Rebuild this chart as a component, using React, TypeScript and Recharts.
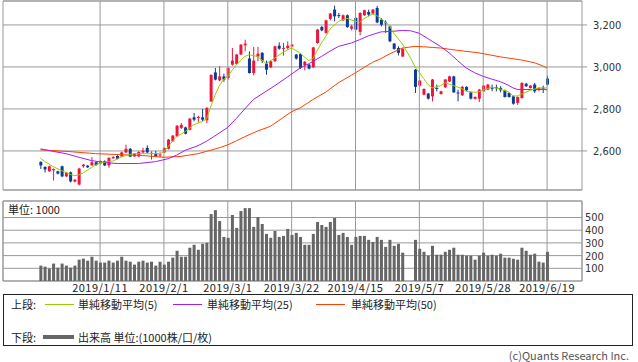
import React from "react";
import { Bar, CartesianGrid, ComposedChart, Line, ReferenceArea, ReferenceLine, XAxis, YAxis } from "recharts";

// candle values per trading slot (null = no trading)
const opens = [
  2548, 2524, 2503, 2508, 2503, 2527, 2479, 2498, 2454, 2440, 2527, 2530, 2531, 2546, 2540, 2552, 2531, 2565, 2576, 2574,
  2593, 2610, 2574, 2574, 2593, 2614, 2586, 2587, 2580, 2593, 2610, 2646, 2670, 2710, 2712, 2701, 2760, 2757, 2760, 2746,
  2836, 2974, 2936, 2955, 2948, 3011, 3014, 3059, 3103, 3040, 2971, 3050, 3067, 3016, 2998, 3027, 3101, 3086, 3090, 3098,
  3059, 3062, 3008, 3011, 2998, 3114, 3190, 3162, 3229, 3273, 3247, 3222, 3246, 3182, 3233, 3167, 3246, 3262, 3254, 3281,
  3225, 3212, 3193, 3111, 3090, 3050, null, null, 2987, 2911, 2868, 2873, 2860, 2900, 2871, 2903, 2931, 2955, 2878, 2865,
  2905, 2879, 2848, 2849, 2884, 2892, 2901, 2903, 2900, 2889, 2876, 2860, 2829, 2852, 2920, 2900, 2916, 2892, 2901, 2945,
];
const highs = [
  2550, 2526, 2530, 2517, 2506, 2530, 2500, 2502, 2466, 2520, 2538, 2533, 2571, 2549, 2556, 2555, 2570, 2575, 2579, 2596,
  2630, 2614, 2590, 2598, 2615, 2627, 2598, 2600, 2593, 2617, 2657, 2676, 2723, 2733, 2716, 2757, 2781, 2768, 2800, 2808,
  2965, 2995, 3003, 2968, 2998, 3090, 3062, 3109, 3130, 3074, 3095, 3095, 3071, 3030, 3030, 3101, 3117, 3114, 3122, 3109,
  3062, 3066, 3028, 3014, 3096, 3181, 3195, 3225, 3257, 3292, 3257, 3250, 3250, 3201, 3237, 3260, 3273, 3273, 3276, 3290,
  3233, 3222, 3197, 3114, 3098, 3089, null, null, 2990, 2938, 2898, 2876, 2943, 2916, 2887, 2943, 2958, 2958, 2892, 2910,
  2908, 2882, 2860, 2895, 2914, 2919, 2916, 2916, 2908, 2892, 2879, 2863, 2860, 2927, 2924, 2914, 2924, 2903, 2911, 2958,
];
const lows = [
  2514, 2497, 2500, 2459, 2488, 2475, 2476, 2450, 2450, 2436, 2520, 2519, 2530, 2530, 2536, 2528, 2520, 2562, 2560, 2571,
  2590, 2570, 2572, 2570, 2590, 2590, 2559, 2572, 2570, 2590, 2607, 2643, 2667, 2705, 2679, 2698, 2741, 2736, 2741, 2733,
  2833, 2936, 2931, 2929, 2940, 3006, 3010, 3056, 3074, 2968, 2960, 3027, 3019, 2963, 2995, 3024, 3082, 3054, 3082, 3095,
  3035, 2991, 2984, 2988, 2995, 3111, 3170, 3159, 3222, 3217, 3233, 3218, 3186, 3174, 3174, 3150, 3243, 3241, 3250, 3208,
  3193, 3162, 3118, 3082, 3055, 3047, null, null, 2876, 2907, 2865, 2845, 2836, 2884, 2868, 2900, 2928, 2876, 2836, 2862,
  2886, 2845, 2845, 2833, 2881, 2889, 2884, 2884, 2879, 2854, 2854, 2820, 2820, 2849, 2905, 2897, 2876, 2884, 2876, 2912,
];
const closes = [
  2531, 2512, 2527, 2514, 2492, 2479, 2497, 2455, 2463, 2516, 2535, 2522, 2546, 2533, 2552, 2531, 2567, 2571, 2562, 2593,
  2610, 2573, 2587, 2595, 2601, 2593, 2591, 2574, 2583, 2614, 2654, 2673, 2720, 2724, 2682, 2754, 2749, 2762, 2749, 2805,
  2962, 2940, 2955, 2940, 2995, 3030, 3059, 3106, 3111, 2971, 3030, 3063, 3030, 2987, 3027, 3098, 3087, 3091, 3101, 3106,
  3040, 2995, 3025, 2992, 3093, 3178, 3174, 3222, 3254, 3241, 3244, 3246, 3190, 3193, 3178, 3257, 3270, 3249, 3273, 3212,
  3201, 3209, 3122, 3086, 3067, 3086, null, null, 2905, 2935, 2895, 2849, 2940, 2897, 2884, 2940, 2955, 2879, 2876, 2905,
  2889, 2849, 2857, 2892, 2911, 2916, 2898, 2900, 2889, 2857, 2857, 2825, 2857, 2924, 2908, 2911, 2884, 2900, 2898, 2916,
];
const volumes = [
  121, 113, 98, 137, 105, 137, 121, 105, 121, 168, 176, 160, 191, 160, 145, 145, 160, 145, 160, 191,
  160, 152, 129, 152, 160, 145, 152, 121, 152, 129, 152, 184, 238, 191, 191, 262, 285, 246, 293, 301,
  527, 558, 472, 347, 340, 520, 418, 551, 574, 574, 426, 504, 449, 371, 340, 394, 347, 355, 410, 363,
  379, 347, 285, 285, 371, 465, 441, 426, 465, 496, 363, 379, 347, 285, 347, 355, 355, 324, 308, 347,
  324, 269, 324, 277, 293, 223, null, null, 324, 254, 230, 199, 277, 207, 207, 230, 246, 262, 207, 207,
  199, 199, 168, 199, 223, 199, 207, 199, 215, 184, 184, 176, 168, 262, 238, 207, 215, 152, 145, 230,
];

// moving averages: [slot, value]
const ma5Pts: [number, number][] = [
  [0, 2565], [1, 2550], [2, 2538], [3, 2525], [5, 2506], [7, 2488], [8, 2482], [9, 2486], [10, 2495], [12, 2522],
  [14, 2543], [16, 2550], [17, 2552], [19, 2571], [21, 2584], [22, 2587], [25, 2587], [28, 2587], [29, 2595], [30, 2620],
  [31, 2646], [32, 2668], [34, 2692], [36, 2725], [38, 2740], [39, 2752], [40, 2810], [41, 2866], [42, 2910], [43, 2940],
  [44, 2957], [46, 3010], [48, 3050], [49, 3058], [51, 3050], [53, 3016], [55, 3042], [57, 3070], [59, 3091], [61, 3065],
  [63, 3030], [64, 3040], [65, 3078], [66, 3115], [67, 3145], [68, 3180], [70, 3217], [72, 3232], [73, 3224], [75, 3212],
  [76, 3230], [78, 3252], [79, 3244], [80, 3230], [82, 3195], [83, 3160], [85, 3110], [87, 3040], [88, 3000], [90, 2945],
  [91, 2916], [92, 2900], [94, 2911], [95, 2925], [97, 2911], [99, 2897], [100, 2884], [102, 2879], [103, 2882], [105, 2897],
  [106, 2905], [108, 2895], [110, 2880], [111, 2862], [112, 2862], [113, 2870], [115, 2889], [117, 2900], [119, 2900],
];
const ma25Pts: [number, number][] = [
  [0, 2610], [3, 2598], [6, 2587], [9, 2570], [12, 2554], [15, 2545], [18, 2540], [23, 2540], [27, 2549], [30, 2563],
  [32, 2580], [34, 2603], [37, 2625], [39, 2646], [41, 2672], [44, 2712], [46, 2755], [48, 2800], [50, 2845], [53, 2884],
  [55, 2910], [58, 2952], [61, 2995], [63, 3015], [66, 3050], [68, 3075], [70, 3098], [73, 3114], [75, 3130], [77, 3148],
  [80, 3167], [83, 3170], [85, 3174], [87, 3172], [89, 3160], [91, 3135], [92, 3122], [94, 3097], [96, 3067], [98, 3030],
  [100, 2995], [102, 2972], [104, 2955], [106, 2942], [108, 2930], [110, 2912], [111, 2900], [112, 2893], [119, 2892],
];
const ma50Pts: [number, number][] = [
  [0, 2605], [6, 2598], [13, 2587], [19, 2582], [24, 2578], [29, 2570], [33, 2574], [37, 2587], [39, 2598], [42, 2615],
  [44, 2629], [46, 2648], [48, 2668], [51, 2695], [54, 2717], [56, 2745], [59, 2787], [61, 2805], [64, 2845], [67, 2880],
  [70, 2925], [73, 2960], [75, 2985], [78, 3022], [80, 3040], [82, 3062], [85, 3090], [88, 3098], [90, 3096], [92, 3093],
  [94, 3090], [98, 3079], [103, 3067], [108, 3048], [113, 3033], [116, 3020], [118, 3005], [119, 2995],
];

const dateIdx = [14, 29, 44, 59, 74, 89, 104, 119];
const dateLabels = ["2019/1/11", "2019/2/1", "2019/3/1", "2019/3/22", "2019/4/15", "2019/5/7", "2019/5/28", "2019/6/19"];
const priceTicks = [2600, 2800, 3000, 3200];
const volTicks = [100, 200, 300, 400, 500];

const X_DOMAIN: [number, number] = [-8.8, 127.2];
const P_DOMAIN: [number, number] = [2414, 3314];
const V_DOMAIN: [number, number] = [0, 630];

const RED = "#f0143c";
const BLUE = "#0c3a96";
const GRID = "#999";
const FONT = '"Noto Sans CJK JP", "DejaVu Sans", sans-serif';
const NUM_FONT = '"DejaVu Sans Condensed", "DejaVu Sans", sans-serif';

const toMap = (pts: [number, number][]) => new Map(pts.map(([i, v]) => [i, v]));
const m5 = toMap(ma5Pts);
const m25 = toMap(ma25Pts);
const m50 = toMap(ma50Pts);

const rows = opens.map((o, i) => ({
  i,
  open: o,
  high: highs[i],
  low: lows[i],
  close: closes[i],
  range: o == null ? null : [lows[i], highs[i]],
  vol: volumes[i],
  ma5: m5.get(i) ?? null,
  ma25: m25.get(i) ?? null,
  ma50: m50.get(i) ?? null,
}));

function Candle(props: any) {
  const { x, y, width, height, payload } = props;
  if (!payload || payload.open == null) return null;
  const { open, close, high, low } = payload;
  const top0 = Math.min(y, y + height);
  const h = Math.abs(height);
  const span = high - low || 1;
  const py = (v: number) => top0 + ((high - v) / span) * h;
  const color = close >= open ? RED : BLUE;
  const cx = x + width / 2;
  const bTop = py(Math.max(open, close));
  const bBot = py(Math.min(open, close));
  return (
    <g>
      <line x1={cx} x2={cx} y1={top0} y2={top0 + h} stroke={color} strokeWidth={1} />
      <rect x={x} y={bTop} width={width} height={Math.max(bBot - bTop, 1)} fill={color} />
    </g>
  );
}

const legendText: React.CSSProperties = { position: "absolute", fontSize: 11, color: "#222", fontFamily: FONT, lineHeight: "12px", whiteSpace: "nowrap" };

export default function App() {
  return (
    <div style={{ position: "absolute", left: 0, top: 0, width: 638, height: 362, background: "#fff", fontFamily: FONT }}>
      <div style={{ position: "absolute", left: 0, top: 0 }}>
        <ComposedChart width={638} height={192} data={rows} margin={{ top: 1, right: 0, bottom: 2, left: 3 }}>
          <XAxis type="number" dataKey="i" domain={X_DOMAIN} hide allowDataOverflow />
          <YAxis
            orientation="right"
            domain={P_DOMAIN}
            ticks={priceTicks}
            interval={0}
            width={56}
            tickSize={5}
            tickMargin={6}
            axisLine={false}
            tickLine={{ stroke: GRID }}
            allowDataOverflow
            tick={{ fontSize: 11, fill: "#333", fontFamily: NUM_FONT }}
            tickFormatter={(v) => Number(v).toLocaleString("en-US")}
          />
          <CartesianGrid vertical={false} stroke={GRID} />
          {dateIdx.map((d) => (
            <ReferenceLine key={d} x={d} stroke={GRID} />
          ))}
          <ReferenceArea x1={X_DOMAIN[0]} x2={X_DOMAIN[1]} y1={P_DOMAIN[0]} y2={P_DOMAIN[1]} fill="none" stroke={GRID} />
          <Bar dataKey="range" barSize={3} shape={<Candle />} isAnimationActive={false} />
          <Line dataKey="ma50" stroke="#ff4000" strokeWidth={1} dot={false} connectNulls isAnimationActive={false} />
          <Line dataKey="ma25" stroke="#a020f0" strokeWidth={1} dot={false} connectNulls isAnimationActive={false} />
          <Line dataKey="ma5" stroke="#99cc00" strokeWidth={1} dot={false} connectNulls isAnimationActive={false} />
        </ComposedChart>
      </div>

      <div style={{ position: "absolute", left: 0, top: 200 }}>
        <ComposedChart width={638} height={100} data={rows} margin={{ top: 1, right: 0, bottom: 0, left: 3 }}>
          <XAxis
            type="number"
            dataKey="i"
            domain={X_DOMAIN}
            ticks={dateIdx}
            interval={0}
            allowDataOverflow
            height={19}
            tickSize={0}
            tickMargin={3}
            axisLine={false}
            tickLine={false}
            tick={{ fontSize: 11, fill: "#222", fontFamily: FONT, letterSpacing: 0.5 }}
            tickFormatter={(v) => dateLabels[dateIdx.indexOf(Number(v))] ?? ""}
          />
          <YAxis
            orientation="right"
            domain={V_DOMAIN}
            ticks={volTicks}
            interval={0}
            width={56}
            tickSize={0}
            tickMargin={3}
            axisLine={false}
            tickLine={false}
            allowDataOverflow
            tick={{ fontSize: 11, fill: "#333", fontFamily: NUM_FONT }}
          />
          <CartesianGrid stroke={GRID} />
          <ReferenceArea x1={X_DOMAIN[0]} x2={X_DOMAIN[1]} y1={V_DOMAIN[0]} y2={V_DOMAIN[1]} fill="none" stroke={GRID} />
          <Bar dataKey="vol" fill="#666" barSize={3} isAnimationActive={false} />
        </ComposedChart>
      </div>

      <div style={{ ...legendText, left: 8, top: 203, background: "#fff" }}>単位: 1000</div>

      <div style={{ position: "absolute", left: 3, top: 294, width: 630, height: 52, border: "1px solid #222", boxSizing: "border-box" }} />
      <div style={{ ...legendText, left: 11, top: 298 }}>上段:</div>
      <div style={{ position: "absolute", left: 45, top: 304, width: 29, height: 1, background: "#99cc00" }} />
      <div style={{ ...legendText, left: 78, top: 298 }}>単純移動平均(5)</div>
      <div style={{ position: "absolute", left: 173, top: 304, width: 29, height: 1, background: "#a020f0" }} />
      <div style={{ ...legendText, left: 207, top: 298 }}>単純移動平均(25)</div>
      <div style={{ position: "absolute", left: 316, top: 304, width: 29, height: 1, background: "#ff4000" }} />
      <div style={{ ...legendText, left: 351, top: 298 }}>単純移動平均(50)</div>
      <div style={{ ...legendText, left: 11, top: 331 }}>下段:</div>
      <div style={{ position: "absolute", left: 43, top: 335, width: 31, height: 4, background: "#666" }} />
      <div style={{ ...legendText, left: 78, top: 331 }}>出来高 単位:(1000株/口/枚)</div>

      <div style={{ ...legendText, right: 9, top: 349, color: "#555" }}>(c)Quants Research Inc.</div>
    </div>
  );
}
